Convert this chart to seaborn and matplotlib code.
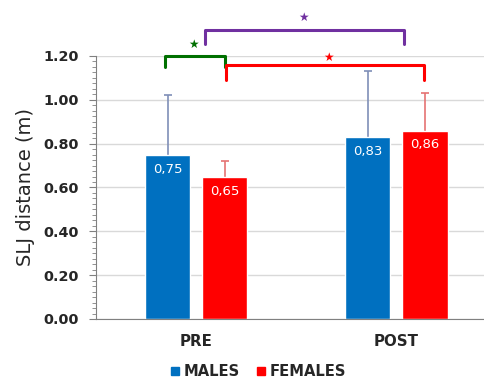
import numpy as np
import pandas as pd
import matplotlib
matplotlib.use("Agg")
import matplotlib.pyplot as plt
import seaborn as sns
from matplotlib.ticker import MultipleLocator
from matplotlib.lines import Line2D

# data
moments = ["PRE", "POST"]
groups = ["MALES", "FEMALES"]
males = [0.75, 0.83]
females = [0.65, 0.86]
males_sd = [0.27, 0.30]
females_sd = [0.07, 0.17]

df = pd.DataFrame({
    "moment": moments * 2,
    "group": ["MALES"] * 2 + ["FEMALES"] * 2,
    "value": males + females,
    "sd": males_sd + females_sd,
})

sns.set_style("white")
plt.rcParams["font.family"] = ["DejaVu Sans"]

colors = {"MALES": "#0070C0", "FEMALES": "#FF0000"}
err_colors = {"MALES": "#7F8FB8", "FEMALES": "#E57373"}

fig = plt.figure(figsize=(4.84, 3.81), dpi=100)
ax = fig.add_axes([96.1 / 484, 62 / 381, 400.5 / 484, 263 / 381])

sns.barplot(data=df, x="moment", y="value", hue="group", order=moments,
            hue_order=groups, palette=colors, saturation=1, width=0.57, gap=0.21,
            errorbar=None, legend=False, ax=ax, zorder=2)

# error bars (upper only) + value labels
for container, g in zip(ax.containers, groups):
    sub = df[df["group"] == g].set_index("moment").loc[moments]
    for bar, (m, row) in zip(container, sub.iterrows()):
        cx = bar.get_x() + bar.get_width() / 2
        eb = ax.errorbar(cx, row["value"], yerr=[[0], [row["sd"]]], fmt="none",
                         ecolor=err_colors[g], elinewidth=1.2, capsize=2.6,
                         capthick=1.2, zorder=1.5)
        eb[1][0].remove()  # drop the lower cap
        ax.text(cx, row["value"] - 0.066, f"{row['value']:.2f}".replace(".", ","),
                ha="center", va="center", color="white", fontsize=9.5, zorder=4)

ax.set_xlim(-0.5, 1.5)
ax.set_ylim(0, 1.2)
ax.yaxis.set_major_locator(MultipleLocator(0.2))
ax.yaxis.set_minor_locator(MultipleLocator(0.025))
ax.set_yticklabels([f"{v:.2f}" for v in ax.get_yticks()])
ax.grid(axis="y", color="#D9D9D9", linewidth=1)
ax.set_axisbelow(True)
for s in ["top", "right"]:
    ax.spines[s].set_visible(False)
ax.spines["left"].set_color("#808080")
ax.spines["bottom"].set_color("#808080")
ax.tick_params(axis="y", which="major", left=True, length=5, color="#808080",
               labelsize=10.4, pad=7.5)
ax.tick_params(axis="y", which="minor", left=True, length=3, color="#808080")
ax.tick_params(axis="x", bottom=False, labelsize=10.8, pad=7)
for lab in ax.get_yticklabels() + ax.get_xticklabels():
    lab.set_fontweight("bold")
ax.set_xlabel("")
ax.set_ylabel("SLJ distance (m)", fontsize=14, labelpad=6)

# significance brackets
def bracket(x1, x2, ytop, yl, yr, color, sx, sy):
    ax.plot([x1, x1, x2, x2], [yl, ytop, ytop, yr], color=color, lw=2.2,
            solid_joinstyle="round", clip_on=False, zorder=5)
    ax.text(sx, sy, "★", color=color, fontsize=8.5,
            ha="center", va="center", clip_on=False)

bracket(-0.156, 0.144, 1.20, 1.152, 1.152, "#007000", -0.013, 1.251)
bracket(0.149, 1.138, 1.161, 1.091, 1.091, "#FF0000", 0.66, 1.195)
bracket(0.044, 1.04, 1.32, 1.256, 1.256, "#7030A0", 0.538, 1.374)

handles = [Line2D([], [], marker="s", ls="", markersize=6, color=colors[g]) for g in groups]
fig.legend(handles, groups, loc="center", bbox_to_anchor=(258.5 / 484, 1 - 372 / 381),
           ncol=2, frameon=False, handlelength=0.55, handletextpad=0.32,
           columnspacing=1.15, borderpad=0, prop={"weight": "bold", "size": 10.6})

fig.savefig("out.png", dpi=100)
